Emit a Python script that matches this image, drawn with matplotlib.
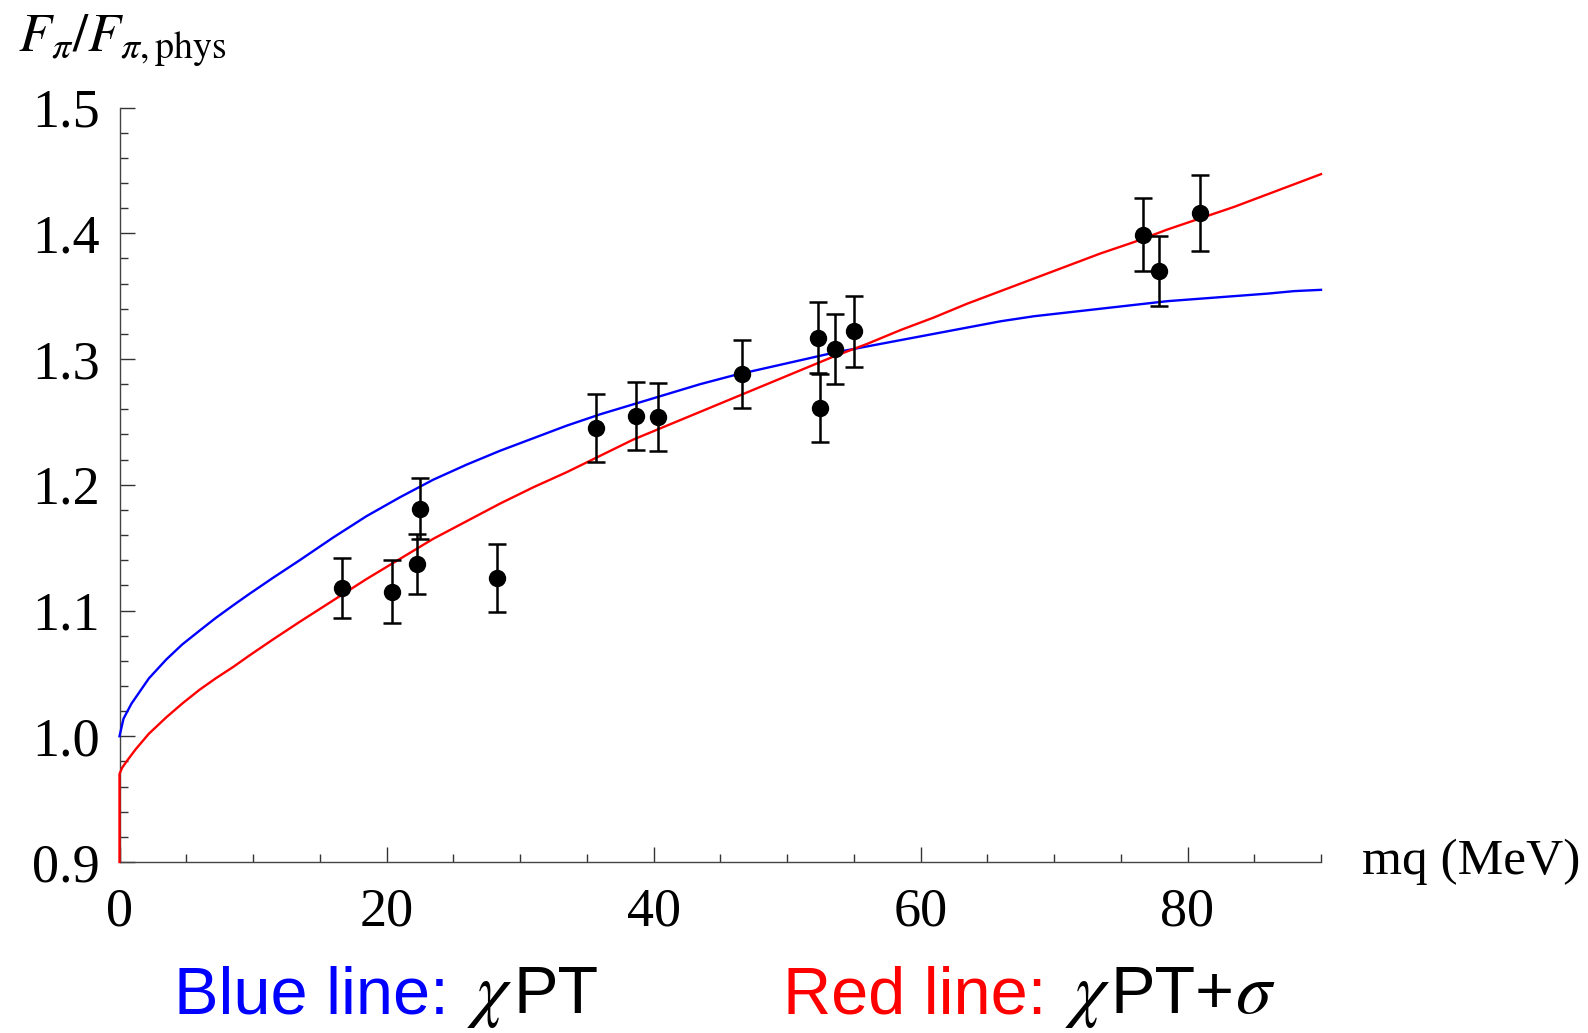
import matplotlib
matplotlib.use("Agg")
import matplotlib.pyplot as plt
from matplotlib.ticker import MultipleLocator, FixedLocator, FixedFormatter

plt.rcParams['mathtext.fontset'] = 'stix'
plt.rcParams['font.family'] = ['Liberation Serif', 'DejaVu Serif']

# ---- data ----
mq = [16.7, 20.4, 22.3, 22.5, 28.3, 35.7, 38.7, 40.3, 46.6, 52.3, 52.5, 53.6, 55.0, 76.7, 77.9, 80.9]
fpi = [1.118, 1.115, 1.137, 1.181, 1.126, 1.245, 1.255, 1.254, 1.288, 1.317, 1.261, 1.308, 1.322, 1.399, 1.370, 1.416]
fpi_err = [0.024, 0.025, 0.024, 0.024, 0.027, 0.027, 0.027, 0.027, 0.027, 0.028, 0.027, 0.028, 0.028, 0.029, 0.028, 0.030]

# chiPT curve (blue)
blue_x = [0.0, 0.3, 0.9, 2.2, 3.5, 4.7, 6.0, 7.2, 8.5, 9.7, 11.5, 13.5, 16.0, 18.5, 21.0, 23.5,
          26.0, 28.5, 31.0, 33.5, 36.0, 38.5, 41.0, 43.5, 46.0, 48.5, 51.0, 53.5, 56.0, 58.5,
          61.0, 63.5, 66.0, 68.5, 71.0, 73.5, 76.0, 78.5, 81.0, 83.5, 86.0, 88.0, 90.0]
blue_y = [1.000, 1.014, 1.026, 1.046, 1.061, 1.073, 1.084, 1.094, 1.104, 1.113, 1.126, 1.140,
          1.158, 1.175, 1.190, 1.204, 1.216, 1.227, 1.237, 1.247, 1.256, 1.264, 1.272, 1.280,
          1.287, 1.293, 1.299, 1.305, 1.310, 1.315, 1.320, 1.325, 1.330, 1.334, 1.337, 1.340,
          1.343, 1.346, 1.348, 1.350, 1.352, 1.354, 1.355]

# chiPT + sigma curve (red)
red_x = [0.0, 0.0, 0.2, 0.6, 1.2, 2.2, 3.5, 4.7, 6.0, 7.2, 8.5, 9.7, 11.5, 13.5, 16.0, 18.5,
         21.0, 23.5, 26.0, 28.5, 31.0, 33.5, 36.0, 38.5, 41.0, 43.5, 46.0, 48.5, 51.0, 53.5,
         56.0, 58.5, 61.0, 63.5, 66.0, 68.5, 71.0, 73.5, 76.0, 78.5, 81.0, 83.5, 86.0, 88.0, 90.0]
red_y = [0.900, 0.970, 0.975, 0.981, 0.9895, 1.002, 1.015, 1.026, 1.037, 1.046, 1.055, 1.064,
         1.077, 1.091, 1.108, 1.125, 1.141, 1.157, 1.171, 1.185, 1.198, 1.210, 1.223, 1.236,
         1.247, 1.258, 1.269, 1.280, 1.291, 1.302, 1.312, 1.323, 1.333, 1.344, 1.354, 1.364,
         1.374, 1.384, 1.393, 1.403, 1.412, 1.421, 1.431, 1.439, 1.447]

xticks = [0, 20, 40, 60, 80]
xticklabels = ['0', '20', '40', '60', '80']
yticks = [0.9, 1.0, 1.1, 1.2, 1.3, 1.4, 1.5]
yticklabels = ['0.9', '1.0', '1.1', '1.2', '1.3', '1.4', '1.5']

W, H = 1588, 1033
fig = plt.figure(figsize=(W / 100, H / 100), dpi=100)
ax = fig.add_axes([119.5 / W, 1 - 862 / H, (1321 - 119.5) / W, (862 - 107.5) / H])

ax.plot(blue_x, blue_y, color='#0000ff', lw=1.7, clip_on=False, zorder=3,
        solid_joinstyle='round')
ax.plot(red_x, red_y, color='#ff0000', lw=1.7, clip_on=False, zorder=3,
        solid_joinstyle='round')
ax.errorbar(mq, fpi, yerr=fpi_err, fmt='o', color='black', ms=11.5,
            elinewidth=1.8, capsize=6.5, capthick=1.8, zorder=4, clip_on=False)

ax.set_xlim(0, 90)
ax.set_ylim(0.9, 1.5)
for s in ['top', 'right']:
    ax.spines[s].set_visible(False)
for s in ['left', 'bottom']:
    ax.spines[s].set_color('#444444')
    ax.spines[s].set_linewidth(1.0)

ax.xaxis.set_major_locator(FixedLocator(xticks))
ax.xaxis.set_major_formatter(FixedFormatter(xticklabels))
ax.xaxis.set_minor_locator(MultipleLocator(5))
ax.yaxis.set_major_locator(FixedLocator(yticks))
ax.yaxis.set_major_formatter(FixedFormatter(yticklabels))
ax.yaxis.set_minor_locator(MultipleLocator(0.02))

ax.tick_params(which='both', direction='in', color='#333333', width=1.0, labelsize=39)
ax.tick_params(which='major', length=11)
ax.tick_params(which='minor', length=6)
ax.tick_params(axis='x', which='major', pad=18)
ax.tick_params(axis='y', which='major', pad=14)

# axis labels
fig.text(18 / W, 1 - 51 / H, r'$F_{\pi}/F_{\pi,\mathrm{phys}}$', fontsize=39,
         ha='left', va='baseline')
fig.text(1362 / W, 1 - 874 / H, 'mq (MeV)', fontsize=37, ha='left', va='baseline')

# legend-like caption built from pieces
renderer = fig.canvas.get_renderer()


def chain(x0, y0, pieces):
    x = x0
    for txt, color, kw in pieces:
        t = fig.text(x / W, 1 - y0 / H, txt, color=color, ha='left', va='baseline', **kw)
        bb = t.get_window_extent(renderer=renderer)
        x += bb.width


sans = dict(family=['Liberation Sans', 'DejaVu Sans'], fontsize=48)
mth = dict(fontsize=52)
chain(174, 1013, [('Blue line: ', 'blue', sans), (r'$\chi$', 'black', mth), ('PT', 'black', sans)])
chain(783, 1013, [('Red line: ', 'red', sans), (r'$\chi$', 'black', mth), ('PT+', 'black', sans),
                  (r'$\sigma$', 'black', mth)])

fig.savefig('out.png', dpi=100)
